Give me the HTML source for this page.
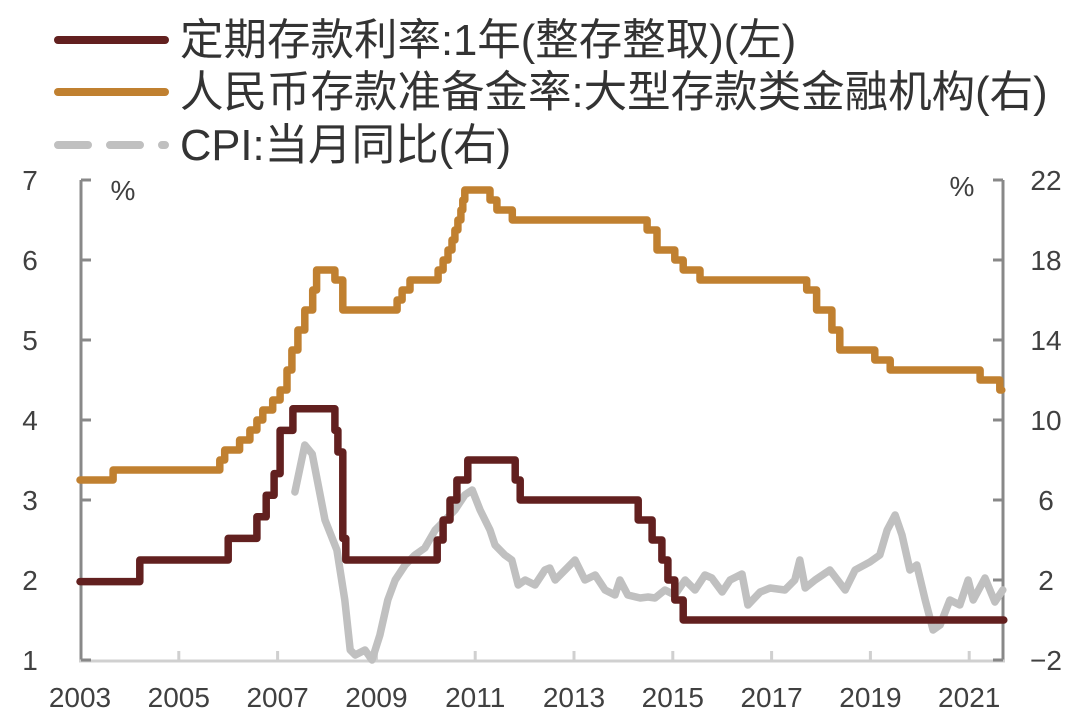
<!DOCTYPE html>
<html><head><meta charset="utf-8">
<style>
html,body{margin:0;padding:0;background:#fff;}
svg{display:block;font-family:"Liberation Sans","Noto Sans CJK SC",sans-serif;}
</style></head>
<body>
<svg id="chart" width="1080" height="727" viewBox="0 0 1080 727" xmlns="http://www.w3.org/2000/svg">
  <g>
    <line x1="58" y1="40" x2="165" y2="40" stroke="#62201f" stroke-width="8" stroke-linecap="round"/>
    <text x="180" y="55" font-size="43.5" fill="#333">定期存款利率:1年(整存整取)(左)</text>
    <line x1="58" y1="92" x2="165" y2="92" stroke="#c08030" stroke-width="8" stroke-linecap="round"/>
    <text x="180" y="107" font-size="43.5" fill="#333">人民币存款准备金率:大型存款类金融机构(右)</text>
    <line x1="58" y1="145" x2="165" y2="145" stroke="#c0c0c0" stroke-width="8" stroke-linecap="round" stroke-dasharray="30 22"/>
    <text x="180" y="160" font-size="43.5" fill="#333">CPI:当月同比(右)</text>
  </g>
  <g id="axes"></g>
  <g id="series"></g>
</svg>
<script>
const xTickYears = [2003,2005,2007,2009,2011,2013,2015,2017,2019,2021];
const leftTicks = [1,2,3,4,5,6,7];
const rightTicks = [-2,2,6,10,14,18,22];

const depositYears = [2003.0,2004.21,2006.0,2006.58,2006.77,2006.93,2007.05,2007.31,2008.16,2008.22,2008.32,2008.38,2010.23,2010.35,2010.49,2010.63,2010.85,2011.81,2011.91,2014.30,2014.58,2014.78,2014.90,2015.04,2015.21];
const depositValues = [1.98,2.25,2.52,2.79,3.06,3.33,3.87,4.14,3.87,3.60,2.52,2.25,2.50,2.75,3.00,3.25,3.50,3.25,3.00,2.75,2.50,2.25,2.00,1.75,1.50];
const depositEnd = 2021.70;

const rrrYears = [2003.0,2003.67,2005.83,2005.93,2006.23,2006.44,2006.58,2006.70,2006.90,2007.05,2007.19,2007.29,2007.41,2007.55,2007.71,2007.79,2008.16,2008.32,2009.42,2009.52,2009.68,2010.25,2010.35,2010.45,2010.53,2010.59,2010.65,2010.71,2010.75,2010.79,2011.30,2011.44,2011.75,2014.48,2014.68,2015.04,2015.21,2015.55,2017.71,2017.91,2018.22,2018.38,2019.09,2019.40,2021.22,2021.62];
const rrrValues = [7.0,7.5,8.0,8.5,9.0,9.5,10.0,10.5,11.0,11.5,12.5,13.5,14.5,15.5,16.5,17.5,17.0,15.5,16.0,16.5,17.0,17.5,18.0,18.5,19.0,19.5,20.0,20.5,21.0,21.5,21.0,20.5,20.0,19.5,18.5,18.0,17.5,17.0,16.5,15.5,14.5,13.5,13.0,12.5,12.0,11.5];
const rrrEnd = 2021.66;

const cpiYears = [2007.35,2007.55,2007.70,2007.96,2008.20,2008.36,2008.47,2008.57,2008.77,2008.91,2009.07,2009.23,2009.38,2009.58,2009.78,2009.98,2010.19,2010.39,2010.59,2010.79,2010.94,2011.10,2011.30,2011.40,2011.60,2011.74,2011.87,2012.01,2012.21,2012.41,2012.51,2012.62,2012.82,2013.02,2013.22,2013.43,2013.63,2013.83,2013.93,2014.09,2014.34,2014.50,2014.64,2014.84,2015.04,2015.25,2015.45,2015.65,2015.79,2016.00,2016.16,2016.40,2016.52,2016.77,2016.97,2017.27,2017.47,2017.57,2017.68,2017.88,2018.18,2018.49,2018.69,2018.99,2019.19,2019.34,2019.50,2019.64,2019.80,2019.94,2020.11,2020.27,2020.41,2020.61,2020.81,2020.98,2021.08,2021.32,2021.52,2021.68];
const cpiValues = [6.4,8.75,8.3,5.0,3.5,1.0,-1.5,-1.75,-1.5,-2.0,-0.75,1.0,2.0,2.75,3.25,3.6,4.5,5.0,5.5,6.25,6.5,5.5,4.5,3.75,3.25,3.0,1.75,2.0,1.75,2.5,2.6,2.0,2.5,3.0,2.0,2.25,1.5,1.25,2.0,1.25,1.1,1.15,1.1,1.5,1.25,2.0,1.5,2.25,2.1,1.4,2.0,2.3,0.75,1.4,1.6,1.5,2.0,3.0,1.6,2.0,2.5,1.5,2.5,2.9,3.25,4.5,5.25,4.25,2.5,2.75,1.0,-0.5,-0.25,1.0,0.75,2.0,1.0,2.1,0.9,1.5];

const NS = "http://www.w3.org/2000/svg";
const X0 = 81, XR = 1003, YT = 180, YB = 660;
function xs(t){ return 80 + (t - 2003) * 49.4; }
function yl(v){ return YB - (v - 1) * 80; }
function yr(v){ return YB - (v + 2) * 20; }
function mk(tag, attrs, parent){
  const e = document.createElementNS(NS, tag);
  for (const k in attrs) e.setAttribute(k, attrs[k]);
  parent.appendChild(e);
  return e;
}
const axes = document.getElementById('axes');
const series = document.getElementById('series');

let e;
e = mk('line',{x1:X0,y1:YT,x2:X0,y2:YB,stroke:'#888','stroke-width':3},axes);


e = mk('line',{x1:XR,y1:YT,x2:XR,y2:YB,stroke:'#888','stroke-width':3},axes);


e = mk('line',{x1:X0-2,y1:YB+1,x2:XR+2,y2:YB+1,stroke:'#d0d0d0','stroke-width':3},axes);



leftTicks.forEach(v=>{
  const t = mk('line',{x1:X0,y1:yl(v),x2:X0+10,y2:yl(v),stroke:'#888','stroke-width':3},axes);
  
  
  const l = mk('text',{x:30,y:yl(v)+10,'font-size':28,fill:'#404040','text-anchor':'middle'},axes);
  l.textContent = v;
  
  
});
rightTicks.forEach(v=>{
  const t = mk('line',{x1:XR-10,y1:yr(v),x2:XR,y2:yr(v),stroke:'#888','stroke-width':3},axes);
  
  
  const l = mk('text',{x:1046,y:yr(v)+10,'font-size':28,fill:'#404040','text-anchor':'middle'},axes);
  l.textContent = v < 0 ? '\u2212' + Math.abs(v) : v;
  
  
});
xTickYears.forEach(y=>{
  const x = xs(y);
  if (y !== 2003) {
    const t = mk('line',{x1:x,y1:YB-9,x2:x,y2:YB,stroke:'#d0d0d0','stroke-width':3},axes);
    
    
  }
  const l = mk('text',{x:x,y:707,'font-size':28,fill:'#404040','text-anchor':'middle'},axes);
  l.textContent = y;
  
  
});
e = mk('text',{x:123,y:200,'font-size':28,fill:'#404040','text-anchor':'middle'},axes);
e.textContent='%';


e = mk('text',{x:962,y:196,'font-size':28,fill:'#404040','text-anchor':'middle'},axes);
e.textContent='%';



function stepPath(years, vals, end, yf){
  let d = 'M' + xs(years[0]).toFixed(1) + ' ' + yf(vals[0]).toFixed(1);
  for (let i = 1; i < years.length; i++){
    d += ' H' + xs(years[i]).toFixed(1) + ' V' + yf(vals[i]).toFixed(1);
  }
  d += ' H' + xs(end).toFixed(1);
  return d;
}
let p;
p = mk('path',{d:stepPath(rrrYears,rrrValues,rrrEnd,yr),fill:'none',stroke:'#c08030','stroke-width':7.5,'stroke-linejoin':'round','stroke-linecap':'round'},series);



let cd = '';
cpiYears.forEach((t,i)=>{ cd += (i ? ' L' : 'M') + xs(t).toFixed(1) + ' ' + yr(cpiValues[i]).toFixed(1); });
p = mk('path',{d:cd,fill:'none',stroke:'#c0c0c0','stroke-width':7.5,'stroke-linejoin':'round','stroke-linecap':'round'},series);



p = mk('path',{d:stepPath(depositYears,depositValues,depositEnd,yl),fill:'none',stroke:'#62201f','stroke-width':7.5,'stroke-linejoin':'round','stroke-linecap':'round'},series);


</script>
</body></html>
